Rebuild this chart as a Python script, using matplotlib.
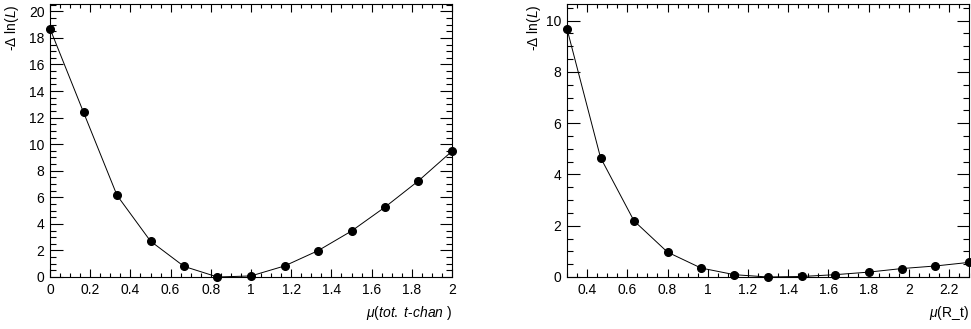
import numpy as np
import matplotlib
matplotlib.use('Agg')
from matplotlib import pyplot as plt
from matplotlib.ticker import MultipleLocator, FormatStrFormatter

plt.rcParams['font.family'] = ['Liberation Sans', 'DejaVu Sans']
plt.rcParams['mathtext.fontset'] = 'custom'
plt.rcParams['mathtext.rm'] = 'Liberation Sans'
plt.rcParams['mathtext.it'] = 'Liberation Sans:italic'

# scan of the total t-channel signal strength
mu_tchan = [0.0, 0.1667, 0.3333, 0.5, 0.6667, 0.8333, 1.0,
            1.1667, 1.3333, 1.5, 1.6667, 1.8333, 2.0]
nll_tchan = [18.7, 12.4, 6.15, 2.7, 0.8, 0.0, 0.08,
             0.83, 1.98, 3.46, 5.26, 7.24, 9.47]

# scan of R_t
mu_rt = [0.3, 0.4667, 0.6333, 0.8, 0.9667, 1.1333, 1.3,
         1.4667, 1.6333, 1.8, 1.9667, 2.1333, 2.3]
nll_rt = [9.68, 4.66, 2.19, 0.97, 0.35, 0.09, 0.0,
          0.02, 0.09, 0.19, 0.33, 0.43, 0.57]

W, H = 971, 329
fig = plt.figure(figsize=(W / 100, H / 100), dpi=100)


def px(x0, y0, x1, y1):
    return [x0 / W, 1 - y1 / H, (x1 - x0) / W, (y1 - y0) / H]


def style(ax, xlim, ylim):
    ax.set_xlim(*xlim)
    ax.set_ylim(*ylim)
    ax.xaxis.set_major_locator(MultipleLocator(0.2))
    ax.xaxis.set_minor_locator(MultipleLocator(0.05))
    ax.yaxis.set_major_locator(MultipleLocator(2))
    ax.yaxis.set_minor_locator(MultipleLocator(0.5))
    ax.xaxis.set_major_formatter(FormatStrFormatter('%g'))
    ax.yaxis.set_major_formatter(FormatStrFormatter('%g'))
    ax.tick_params(which='both', direction='in', top=True, right=True,
                   labelsize=10, width=0.8, pad=4)
    ax.tick_params(axis='x', which='major', length=6)
    ax.tick_params(axis='x', which='minor', length=3)
    ax.tick_params(axis='y', which='major', length=9)
    ax.tick_params(axis='y', which='minor', length=4.5)
    for s in ax.spines.values():
        s.set_linewidth(0.8)


ax1 = fig.add_axes(px(50, 4, 452, 277))
ax1.plot(mu_tchan, nll_tchan, '-', color='black', lw=0.7,
         marker='o', ms=5.5, mfc='black', mec='black', clip_on=False)
style(ax1, (0, 2), (0, 20.55))

ax2 = fig.add_axes(px(567, 4, 969, 277))
ax2.plot(mu_rt, nll_rt, '-', color='black', lw=0.7,
         marker='o', ms=5.5, mfc='black', mec='black', clip_on=False)
style(ax2, (0.3, 2.3), (0, 10.65))

# axis titles, ROOT style
fig.text(12 / W, 1 - 4 / H, r'-$\Delta$ ln($L$)', rotation=90,
         ha='center', va='top', fontsize=10)
fig.text(534 / W, 1 - 4 / H, r'-$\Delta$ ln($L$)', rotation=90,
         ha='center', va='top', fontsize=10)
fig.text(452 / W, 1 - 313 / H, r'$\mu$($\it{tot.\ t}$-$\it{chan}$ )',
         ha='right', va='center', fontsize=10)
fig.text(969 / W, 1 - 313 / H, r'$\mu$(R_t)',
         ha='right', va='center', fontsize=10)

fig.savefig('out.png', dpi=100)
